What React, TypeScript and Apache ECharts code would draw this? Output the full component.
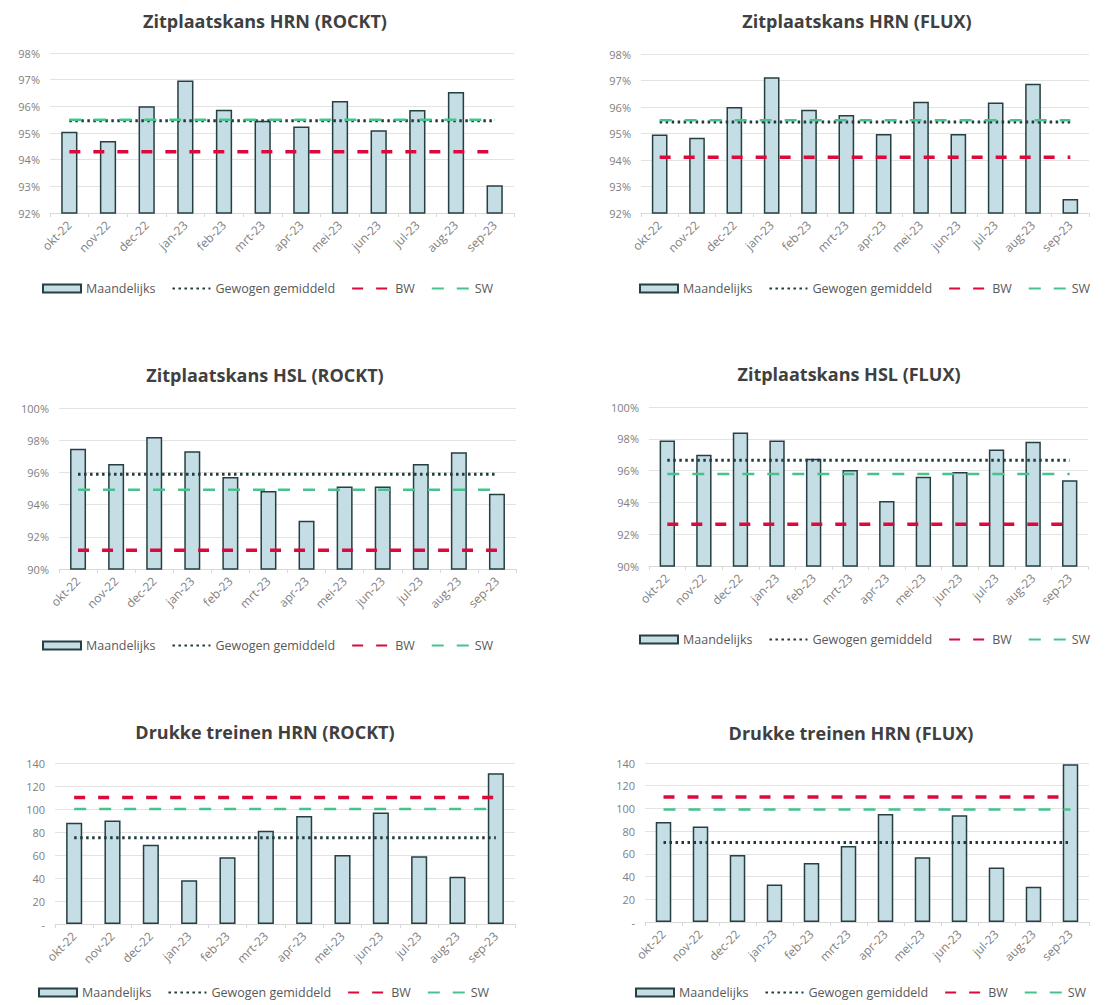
import React, { useEffect, useRef } from "react";
import * as echarts from "echarts";

const months = ["okt-22", "nov-22", "dec-22", "jan-23", "feb-23", "mrt-23", "apr-23", "mei-23", "jun-23", "jul-23", "aug-23", "sep-23"];

const hrnRocktMonthly = [95.05, 94.7, 96.0, 96.97, 95.87, 95.46, 95.24, 96.2, 95.1, 95.86, 96.54, 93.04];
const hrnRocktRefs = { avg: 95.46, bw: 94.3, sw: 95.5 };

const hrnFluxMonthly = [94.96, 94.84, 96.0, 97.12, 95.9, 95.7, 94.98, 96.2, 94.98, 96.17, 96.88, 92.53];
const hrnFluxRefs = { avg: 95.43, bw: 94.1, sw: 95.5 };

const hslRocktMonthly = [97.47, 96.52, 98.2, 97.31, 95.71, 94.85, 93.0, 95.13, 95.13, 96.52, 97.25, 94.68];
const hslRocktRefs = { avg: 95.88, bw: 91.16, sw: 94.93 };

const hslFluxMonthly = [97.9, 97.0, 98.39, 97.9, 96.75, 96.04, 94.09, 95.62, 95.91, 97.32, 97.82, 95.39];
const hslFluxRefs = { avg: 96.65, bw: 92.62, sw: 95.79 };

const drukRocktMonthly = [88, 90, 69, 38, 58, 81, 94, 60, 97, 59, 41, 131];
const drukRocktRefs = { avg: 75, bw: 110, sw: 100 };

const drukFluxMonthly = [88, 84, 59, 33, 52, 67, 95, 57, 94, 48, 31, 139];
const drukFluxRefs = { avg: 70, bw: 110, sw: 99 };

const titles = [
  "Zitplaatskans HRN (ROCKT)",
  "Zitplaatskans HRN (FLUX)",
  "Zitplaatskans HSL (ROCKT)",
  "Zitplaatskans HSL (FLUX)",
  "Drukke treinen HRN (ROCKT)",
  "Drukke treinen HRN (FLUX)",
];

const seriesNames = ["Maandelijks", "Gewogen gemiddeld", "BW", "SW"];

const pctAxis98 = { min: 92, max: 98, interval: 1, pct: true };
const pctAxis100 = { min: 90, max: 100, interval: 2, pct: true };
const countAxis = { min: 0, max: 140, interval: 20, pct: false };

const panels = [
  { title: titles[0], monthly: hrnRocktMonthly, refs: hrnRocktRefs, axis: pctAxis98, grid: { left: 50, top: 53, width: 464, height: 160 }, tx: 265, ty: 12, lx: 42, ly: 282 },
  { title: titles[1], monthly: hrnFluxMonthly, refs: hrnFluxRefs, axis: pctAxis98, grid: { left: 641, top: 54, width: 448, height: 159 }, tx: 857, ty: 12, lx: 639, ly: 282 },
  { title: titles[2], monthly: hslRocktMonthly, refs: hslRocktRefs, axis: pctAxis100, grid: { left: 59, top: 408, width: 457, height: 161 }, tx: 265, ty: 366, lx: 42, ly: 639 },
  { title: titles[3], monthly: hslFluxMonthly, refs: hslFluxRefs, axis: pctAxis100, grid: { left: 649, top: 407, width: 439, height: 159 }, tx: 849, ty: 365, lx: 639, ly: 633 },
  { title: titles[4], monthly: drukRocktMonthly, refs: drukRocktRefs, axis: countAxis, grid: { left: 55, top: 763, width: 460, height: 161 }, tx: 265, ty: 723, lx: 38, ly: 986 },
  { title: titles[5], monthly: drukFluxMonthly, refs: drukFluxRefs, axis: countAxis, grid: { left: 645, top: 763, width: 444, height: 159 }, tx: 851, ty: 724, lx: 635, ly: 986 },
];

const FONT = "'Open Sans', 'Noto Sans', sans-serif";
const BAR_FILL = "#c5dde5";
const BAR_BORDER = "#263f40";
const AVG_COLOR = "#1f3b3d";
const BW_COLOR = "#dc0a3c";
const SW_COLOR = "#46c38c";

function buildOption() {
  const title: any[] = [];
  const grid: any[] = [];
  const xAxis: any[] = [];
  const yAxis: any[] = [];
  const legend: any[] = [];
  const series: any[] = [];

  panels.forEach((p, i) => {
    title.push({
      text: p.title,
      left: p.tx,
      top: p.ty,
      textAlign: "center",
      padding: 0,
      textStyle: { fontFamily: FONT, fontSize: 18, fontWeight: "bold", color: "#404040" },
    });
    grid.push({ ...p.grid, containLabel: false });
    xAxis.push({
      type: "category",
      gridIndex: i,
      data: months,
      boundaryGap: true,
      axisLine: { lineStyle: { color: "#d9d9d9", width: 1 } },
      axisTick: { show: true, lineStyle: { color: "#d9d9d9" }, length: 4 },
      axisLabel: { rotate: 45, interval: 0, color: "#808080", fontSize: 12, fontFamily: FONT, margin: 10 },
    });
    yAxis.push({
      type: "value",
      gridIndex: i,
      min: p.axis.min,
      max: p.axis.max,
      interval: p.axis.interval,
      axisLine: { show: false },
      axisTick: { show: false },
      splitLine: { lineStyle: { color: "#e3e3e3", width: 1 } },
      axisLabel: {
        color: "#808080",
        fontSize: 11,
        fontFamily: FONT,
        margin: 10,
        formatter: p.axis.pct ? "{value}%" : (v: number) => (v === 0 ? "-" : String(v)),
      },
    });
    legend.push({
      left: p.lx,
      top: p.ly,
      padding: 0,
      itemWidth: 38,
      itemHeight: 8,
      itemGap: 16,
      textStyle: { fontFamily: FONT, fontSize: 12.5, color: "#595959" },
      data: [
        { name: seriesNames[0], icon: "rect" },
        { name: seriesNames[1], itemStyle: { opacity: 0 } },
        { name: seriesNames[2], itemStyle: { opacity: 0 } },
        { name: seriesNames[3], itemStyle: { opacity: 0 } },
      ],
    });
    series.push({
      name: seriesNames[0],
      type: "bar",
      xAxisIndex: i,
      yAxisIndex: i,
      data: p.monthly,
      barWidth: "42%",
      itemStyle: { color: BAR_FILL, borderColor: BAR_BORDER, borderWidth: 1.5 },
    });
    series.push({
      name: seriesNames[1],
      type: "line",
      xAxisIndex: i,
      yAxisIndex: i,
      symbol: "none",
      data: months.map(() => p.refs.avg),
      lineStyle: { color: AVG_COLOR, width: 3, type: [2.5, 3.5] },
      itemStyle: { color: AVG_COLOR },
    });
    series.push({
      name: seriesNames[2],
      type: "line",
      xAxisIndex: i,
      yAxisIndex: i,
      symbol: "none",
      data: months.map(() => p.refs.bw),
      lineStyle: { color: BW_COLOR, width: 3.5, type: [11, 13] },
      itemStyle: { color: BW_COLOR },
    });
    series.push({
      name: seriesNames[3],
      type: "line",
      xAxisIndex: i,
      yAxisIndex: i,
      symbol: "none",
      data: months.map(() => p.refs.sw),
      lineStyle: { color: SW_COLOR, width: 2.5, type: [12, 13] },
      itemStyle: { color: SW_COLOR },
    });
  });

  return {
    animation: false,
    backgroundColor: "#ffffff",
    textStyle: { fontFamily: FONT },
    title,
    grid,
    xAxis,
    yAxis,
    legend,
    series,
  };
}

export default function App() {
  const ref = useRef<HTMLDivElement>(null);
  useEffect(() => {
    if (!ref.current) return;
    const chart = echarts.init(ref.current, undefined, { renderer: "svg" });
    chart.setOption(buildOption() as any);
    return () => chart.dispose();
  }, []);
  return (
    <div
      ref={ref}
      style={{ position: "absolute", left: 0, top: 0, width: 1105, height: 1005, background: "#fff" }}
    />
  );
}
